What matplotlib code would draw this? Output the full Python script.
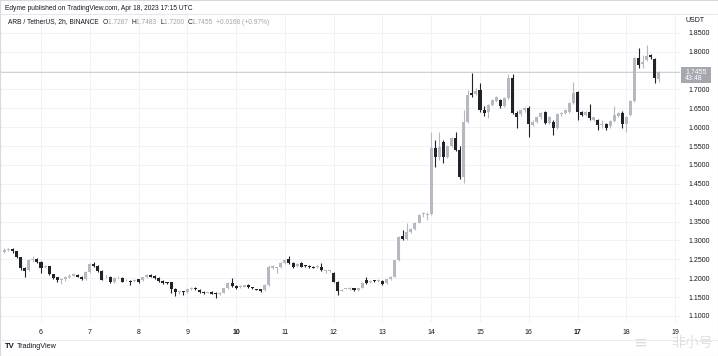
import numpy as np
import matplotlib.pyplot as plt
from matplotlib.patches import Rectangle
from matplotlib.lines import Line2D

# ARB / TetherUS 2h candles.
# First candle is Apr 5 06:00 UTC, one candle every 2 hours.
startDay = 5.25
opens = [1.270, 1.274, 1.277, 1.271, 1.255, 1.226, 1.222, 1.248, 1.251, 1.242,
         1.229, 1.232, 1.210, 1.202, 1.195, 1.197, 1.203, 1.207, 1.209, 1.204,
         1.198, 1.216, 1.237, 1.232, 1.219, 1.202, 1.204, 1.189, 1.202, 1.201,
         1.194, 1.191, 1.192, 1.197, 1.194, 1.202, 1.209, 1.206, 1.200, 1.193,
         1.189, 1.189, 1.172, 1.163, 1.164, 1.164, 1.172, 1.175, 1.170, 1.164,
         1.161, 1.164, 1.159, 1.158, 1.162, 1.173, 1.187, 1.180, 1.176, 1.178,
         1.182, 1.175, 1.171, 1.171, 1.168, 1.182, 1.226, 1.226, 1.229, 1.240,
         1.250, 1.240, 1.232, 1.240, 1.233, 1.231, 1.229, 1.230, 1.231, 1.218,
         1.218, 1.215, 1.191, 1.167, 1.172, 1.172, 1.173, 1.169, 1.175, 1.194,
         1.190, 1.193, 1.193, 1.193, 1.188, 1.197, 1.204, 1.247, 1.313, 1.304,
         1.322, 1.330, 1.347, 1.369, 1.368, 1.370, 1.544, 1.520, 1.560, 1.522,
         1.550, 1.571, 1.540, 1.467, 1.615, 1.690, 1.688, 1.699, 1.646, 1.641,
         1.659, 1.670, 1.672, 1.655, 1.677, 1.730, 1.639, 1.634, 1.646, 1.652,
         1.606, 1.615, 1.626, 1.640, 1.611, 1.615, 1.599, 1.634, 1.637, 1.641,
         1.665, 1.694, 1.641, 1.633, 1.641, 1.620, 1.619, 1.607, 1.608, 1.602,
         1.617, 1.630, 1.637, 1.608, 1.633, 1.670, 1.783, 1.767, 1.778, 1.792,
         1.781, 1.7287]
highs = [1.280, 1.281, 1.279, 1.273, 1.257, 1.230, 1.252, 1.258, 1.253, 1.245,
         1.234, 1.233, 1.212, 1.204, 1.201, 1.205, 1.210, 1.213, 1.211, 1.206,
         1.218, 1.240, 1.243, 1.234, 1.221, 1.208, 1.206, 1.202, 1.207, 1.203,
         1.198, 1.195, 1.198, 1.199, 1.204, 1.211, 1.211, 1.208, 1.202, 1.195,
         1.191, 1.190, 1.174, 1.166, 1.166, 1.174, 1.178, 1.177, 1.172, 1.166,
         1.164, 1.166, 1.164, 1.164, 1.175, 1.189, 1.200, 1.182, 1.181, 1.183,
         1.184, 1.178, 1.172, 1.172, 1.184, 1.234, 1.236, 1.231, 1.243, 1.250,
         1.259, 1.242, 1.240, 1.242, 1.235, 1.235, 1.232, 1.234, 1.241, 1.222,
         1.221, 1.217, 1.193, 1.172, 1.175, 1.177, 1.175, 1.175, 1.190, 1.204,
         1.194, 1.195, 1.197, 1.195, 1.199, 1.206, 1.249, 1.313, 1.328, 1.346,
         1.334, 1.349, 1.370, 1.376, 1.376, 1.588, 1.566, 1.588, 1.566, 1.553,
         1.574, 1.588, 1.550, 1.646, 1.699, 1.743, 1.703, 1.717, 1.655, 1.662,
         1.674, 1.682, 1.675, 1.680, 1.741, 1.741, 1.642, 1.649, 1.654, 1.655,
         1.618, 1.629, 1.640, 1.643, 1.629, 1.618, 1.637, 1.640, 1.649, 1.668,
         1.721, 1.697, 1.644, 1.644, 1.661, 1.628, 1.621, 1.619, 1.610, 1.620,
         1.655, 1.640, 1.643, 1.631, 1.673, 1.786, 1.809, 1.792, 1.818, 1.795,
         1.784, 1.7483]
lows = [1.266, 1.272, 1.268, 1.254, 1.222, 1.202, 1.218, 1.244, 1.241, 1.213,
        1.227, 1.209, 1.199, 1.191, 1.184, 1.193, 1.201, 1.205, 1.202, 1.196,
        1.196, 1.214, 1.230, 1.217, 1.194, 1.200, 1.187, 1.187, 1.200, 1.189,
        1.192, 1.182, 1.190, 1.187, 1.192, 1.200, 1.202, 1.198, 1.191, 1.186,
        1.186, 1.160, 1.154, 1.158, 1.156, 1.162, 1.170, 1.169, 1.162, 1.159,
        1.160, 1.157, 1.147, 1.156, 1.160, 1.171, 1.178, 1.171, 1.174, 1.176,
        1.174, 1.171, 1.168, 1.163, 1.166, 1.180, 1.224, 1.213, 1.227, 1.238,
        1.238, 1.227, 1.230, 1.229, 1.230, 1.226, 1.226, 1.228, 1.220, 1.213,
        1.216, 1.189, 1.156, 1.165, 1.171, 1.170, 1.167, 1.167, 1.173, 1.186,
        1.188, 1.190, 1.191, 1.183, 1.186, 1.195, 1.202, 1.245, 1.300, 1.302,
        1.320, 1.328, 1.345, 1.361, 1.354, 1.368, 1.494, 1.513, 1.505, 1.518,
        1.548, 1.537, 1.462, 1.452, 1.612, 1.680, 1.685, 1.640, 1.630, 1.624,
        1.657, 1.667, 1.652, 1.653, 1.675, 1.636, 1.597, 1.630, 1.640, 1.573,
        1.603, 1.612, 1.623, 1.608, 1.608, 1.580, 1.596, 1.630, 1.634, 1.638,
        1.662, 1.619, 1.630, 1.630, 1.620, 1.617, 1.593, 1.597, 1.593, 1.599,
        1.614, 1.626, 1.597, 1.588, 1.630, 1.667, 1.756, 1.756, 1.775, 1.781,
        1.717, 1.7200]
closes = [1.275, 1.277, 1.271, 1.257, 1.226, 1.220, 1.247, 1.252, 1.244, 1.228,
          1.232, 1.211, 1.201, 1.194, 1.199, 1.203, 1.207, 1.210, 1.204, 1.198,
          1.216, 1.237, 1.232, 1.219, 1.196, 1.204, 1.189, 1.200, 1.204, 1.191,
          1.196, 1.190, 1.196, 1.189, 1.202, 1.209, 1.204, 1.200, 1.193, 1.188,
          1.188, 1.171, 1.163, 1.164, 1.163, 1.172, 1.175, 1.171, 1.164, 1.161,
          1.162, 1.159, 1.158, 1.162, 1.173, 1.187, 1.180, 1.173, 1.179, 1.181,
          1.176, 1.173, 1.170, 1.165, 1.182, 1.231, 1.232, 1.227, 1.241, 1.248,
          1.240, 1.229, 1.238, 1.231, 1.232, 1.230, 1.228, 1.231, 1.222, 1.219,
          1.219, 1.191, 1.165, 1.170, 1.173, 1.175, 1.169, 1.173, 1.188, 1.188,
          1.191, 1.192, 1.195, 1.185, 1.197, 1.204, 1.247, 1.310, 1.304, 1.322,
          1.330, 1.347, 1.368, 1.370, 1.370, 1.544, 1.520, 1.547, 1.522, 1.550,
          1.571, 1.540, 1.467, 1.615, 1.686, 1.686, 1.697, 1.646, 1.637, 1.659,
          1.671, 1.679, 1.655, 1.677, 1.730, 1.639, 1.628, 1.646, 1.650, 1.608,
          1.615, 1.626, 1.637, 1.611, 1.626, 1.599, 1.634, 1.636, 1.646, 1.665,
          1.690, 1.641, 1.633, 1.641, 1.624, 1.626, 1.606, 1.608, 1.599, 1.617,
          1.633, 1.637, 1.608, 1.628, 1.670, 1.783, 1.765, 1.774, 1.790, 1.785,
          1.730, 1.7455]

dayTicks = list(range(6, 20))
boldDays = [10, 17]
priceTicks = [1.10, 1.15, 1.20, 1.25, 1.30, 1.35, 1.40, 1.45, 1.50, 1.55,
              1.60, 1.65, 1.70, 1.75, 1.80, 1.85]
lastPrice = 1.7455
countdown = '43:48'

upColor = '#b6b9c1'
downColor = '#202329'
gridColor = '#f0f2f6'
textColor = '#131722'
font = 'Liberation Sans'

o = np.array(opens)
h = np.array(highs)
l = np.array(lows)
c = np.array(closes)
t = startDay + np.arange(len(o)) / 12.0
colors = np.where(c >= o, upColor, downColor)

W, H = 718, 356
fig = plt.figure(figsize=(W / 100, H / 100), dpi=100)
fig.patch.set_facecolor('white')

def fx(px): return px / W
def fy(py): return 1.0 - py / H

# plot area in pixels: x 1..680, y 14..322
ax = fig.add_axes([fx(1), fy(322), fx(680) - fx(1), fy(14) - fy(322)])
for s in ax.spines.values():
    s.set_visible(False)

ax.set_xlim(5.18, 19.10)
ax.set_ylim(1.084, 1.900)

for d in dayTicks:
    ax.axvline(d, color=gridColor, lw=0.7, zorder=0)
for p in priceTicks:
    ax.axhline(p, color=gridColor, lw=0.7, zorder=0)

# current price line
ax.axhline(lastPrice, color='#c6c9d0', lw=0.6, zorder=1)

# candles: wicks then bodies
ax.vlines(t, l, h, colors=colors, lw=0.8, zorder=2)
bodyLow = np.minimum(o, c)
bodyHeight = np.maximum(np.abs(c - o), 0.0025)
ax.bar(t, bodyHeight, width=0.062, bottom=bodyLow, color=colors, lw=0, zorder=3)

# the 1.7500 label sits under the last price tag, so it is left blank
ax.yaxis.tick_right()
ax.set_yticks(priceTicks)
ax.set_yticklabels(['' if abs(p - 1.75) < 1e-9 else '%.4f' % p for p in priceTicks])
ax.set_xticks(dayTicks)
ax.set_xticklabels([str(d) for d in dayTicks])
ax.tick_params(axis='y', length=0, pad=6, labelsize=5.0, labelcolor=textColor)
ax.tick_params(axis='x', length=0, pad=5, labelsize=5.0, labelcolor=textColor)
for lab in ax.get_yticklabels() + ax.get_xticklabels():
    lab.set_fontfamily(font)
for lab, d in zip(ax.get_xticklabels(), dayTicks):
    if d in boldDays:
        lab.set_fontweight('bold')

# header and legend
fig.text(fx(5), fy(9), 'Edyme published on TradingView.com, Apr 18, 2023 17:15 UTC',
         fontsize=4.8, family=font, color=textColor, va='center')
fig.add_artist(Line2D([0, 1], [fy(14), fy(14)], color='#e0e3eb', lw=0.6))

x = fx(8)
legendParts = [('ARB / TetherUS, 2h, BINANCE  ', textColor),
               ('O', textColor), ('1.7287  ', '#a0a3ab'),
               ('H', textColor), ('1.7483  ', '#a0a3ab'),
               ('L', textColor), ('1.7200  ', '#a0a3ab'),
               ('C', textColor), ('1.7455  ', '#a0a3ab'),
               ('+0.0168 (+0.97%)', '#a0a3ab')]
renderer = fig.canvas.get_renderer()
for txt, col in legendParts:
    tt = fig.text(x, fy(22), txt, fontsize=4.8, family=font, color=col, va='center')
    bb = tt.get_window_extent(renderer=renderer)
    x += bb.width / W

fig.text(fx(685), fy(20), 'USDT', fontsize=5.0, family=font, color=textColor, va='center')

# last price tag on the price scale
fig.add_artist(Rectangle((fx(681), fy(83)), fx(711) - fx(681), fy(67) - fy(83),
                         transform=fig.transFigure, color='#a4a7af', lw=0))
fig.text(fx(707), fy(72.5), '%.4f' % lastPrice, fontsize=5.0, family=font,
         color='white', ha='right', va='center')
fig.text(fx(685), fy(79), countdown, fontsize=5.0, family=font,
         color='white', ha='left', va='center')

# bottom bar
fig.add_artist(Line2D([0, 1], [fy(340), fy(340)], color='#e8eaef', lw=0.6))
fig.text(fx(5), fy(347), 'TV', fontsize=5.5, family=font, weight='bold',
         color=textColor, va='center')
fig.text(fx(17), fy(347), 'TradingView', fontsize=5.2, family=font,
         color=textColor, va='center')

# watermark in the lower right corner
fig.text(fx(713), fy(343), '非小号', fontsize=10, family=['Noto Sans CJK SC', 'DejaVu Sans'],
         color='#dcdde0', ha='right', va='center', alpha=0.9)
fig.text(fx(640), fy(343), '≡', fontsize=12, color='#dcdde0', ha='center', va='center')

# outer frame
fig.add_artist(Rectangle((0, 0), 1, 1, transform=fig.transFigure, fill=False,
                         edgecolor='#d6d9e0', lw=0.8))

fig.savefig('out.png', dpi=100)
